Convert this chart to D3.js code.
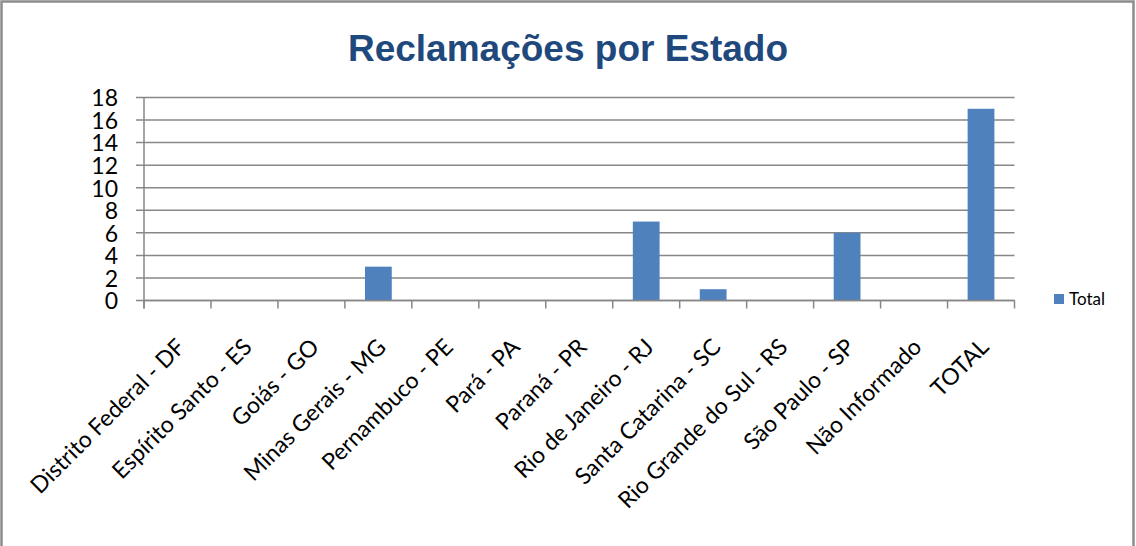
<!DOCTYPE html>
<html>
<head>
<meta charset="utf-8">
<script src="https://cdn.jsdelivr.net/npm/d3@7"></script>
<style>
  html, body { margin: 0; padding: 0; background: #fff; }
  svg { display: block; }
  .tick text { font-family: Lato, "Open Sans", sans-serif; fill: #000; }
</style>
</head>
<body>
<div id="chart"></div>
<script>
// data
const categories = [
    'Distrito Federal - DF', 'Espírito Santo - ES', 'Goiás - GO', 'Minas Gerais - MG',
    'Pernambuco - PE', 'Pará - PA', 'Paraná - PR', 'Rio de Janeiro - RJ',
    'Santa Catarina - SC', 'Rio Grande do Sul - RS', 'São Paulo - SP', 'Não Informado', 'TOTAL'
];
const totals = [0, 0, 0, 3, 0, 0, 0, 7, 1, 0, 6, 0, 17];
const yTicks = [0, 2, 4, 6, 8, 10, 12, 14, 16, 18];
const seriesName = 'Total';
const title = 'Reclamações por Estado';

const W = 1136, H = 546;
const margin = { left: 144, right: 1014.5, top: 97.5, bottom: 300.5 };
const gridColor = '#878787';
const barColor = '#4f81bd';

const svg = d3.select('#chart').append('svg')
    .attr('width', W)
    .attr('height', H);

// outer frame (bottom edge falls outside the picture)
svg.append('rect')
    .attr('x', 1.5).attr('y', 1.5)
    .attr('width', W - 4).attr('height', H + 10)
    .attr('fill', '#fff')
    .attr('stroke', '#8c8c8c')
    .attr('stroke-width', 2.5);

svg.append('text')
    .attr('x', 568).attr('y', 61)
    .attr('text-anchor', 'middle')
    .style('font-family', '"Liberation Sans", Arial, sans-serif')
    .style('font-weight', 'bold')
    .style('font-size', '37px')
    .style('fill', '#1f497d')
    .text(title);

const x = d3.scaleBand()
    .domain(categories)
    .range([margin.left, margin.right])
    .paddingInner(0.6)
    .paddingOuter(0.3);

const y = d3.scaleLinear()
    .domain([0, 18])
    .range([margin.bottom, margin.top]);

// gridlines
svg.append('g')
    .selectAll('line')
    .data(yTicks)
    .join('line')
    .attr('x1', margin.left - 8)
    .attr('x2', margin.right)
    .attr('y1', d => y(d))
    .attr('y2', d => y(d))
    .attr('stroke', gridColor)
    .attr('stroke-width', 1.5);

// y axis labels
const yAxis = svg.append('g')
    .attr('transform', `translate(${margin.left},0)`)
    .call(d3.axisLeft(y).tickValues(yTicks).tickSize(0).tickPadding(26));
yAxis.select('.domain').remove();
yAxis.selectAll('.tick text')
    .style('font-size', '23px')
    .attr('dy', '0.36em');

// bars
svg.append('g')
    .selectAll('rect')
    .data(totals)
    .join('rect')
    .attr('x', (d, i) => x(categories[i]))
    .attr('y', d => y(d))
    .attr('width', x.bandwidth())
    .attr('height', d => y(0) - y(d))
    .attr('fill', barColor);

// y axis line
svg.append('line')
    .attr('x1', margin.left).attr('x2', margin.left)
    .attr('y1', margin.top).attr('y2', margin.bottom + 8)
    .attr('stroke', gridColor)
    .attr('stroke-width', 1.5);

// x axis line and category ticks
svg.append('line')
    .attr('x1', margin.left).attr('x2', margin.right)
    .attr('y1', margin.bottom).attr('y2', margin.bottom)
    .attr('stroke', gridColor)
    .attr('stroke-width', 1.5);

const step = x.step();
const bounds = d3.range(categories.length + 1).map(i => margin.left + i * step);
svg.append('g')
    .selectAll('line')
    .data(bounds)
    .join('line')
    .attr('x1', d => d).attr('x2', d => d)
    .attr('y1', margin.bottom).attr('y2', margin.bottom + 8)
    .attr('stroke', gridColor)
    .attr('stroke-width', 1.5);

// rotated category labels
svg.append('g')
    .selectAll('text')
    .data(categories)
    .join('text')
    .attr('text-anchor', 'end')
    .attr('transform', d => {
        const cx = x(d) + x.bandwidth() / 2 + 9;
        return `translate(${cx},${margin.bottom + 48}) rotate(-45)`;
    })
    .style('font-family', 'Lato, "Open Sans", sans-serif')
    .style('font-size', '23px')
    .style('fill', '#000')
    .text(d => d);

// legend
const legend = svg.append('g').attr('transform', 'translate(1054,294)');
legend.append('rect')
    .attr('width', 10).attr('height', 10)
    .attr('fill', barColor);
legend.append('text')
    .attr('x', 15).attr('y', 10.5)
    .style('font-family', 'Lato, "Open Sans", sans-serif')
    .style('font-size', '17px')
    .style('fill', '#000')
    .text(seriesName);
</script>
</body>
</html>
